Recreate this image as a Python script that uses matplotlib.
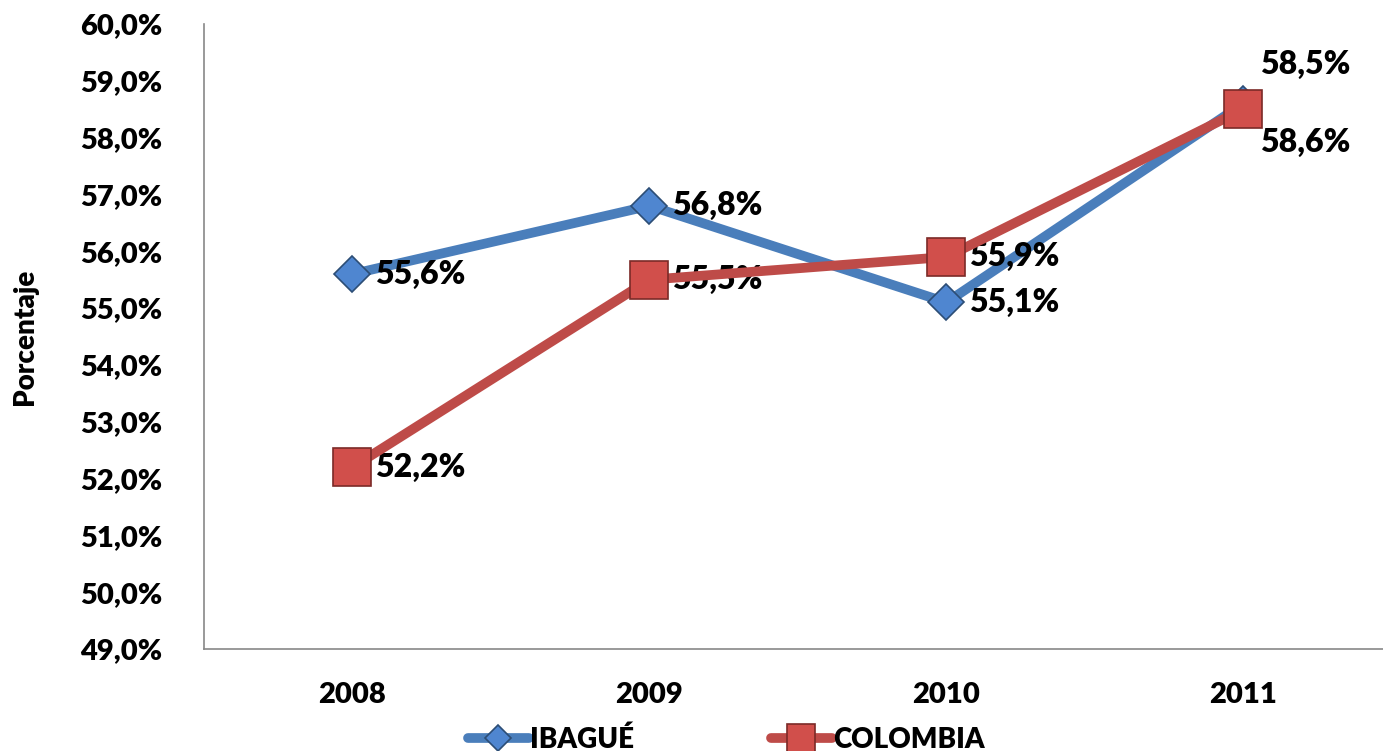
import matplotlib.pyplot as plt
from matplotlib.ticker import FuncFormatter

years = ["2008", "2009", "2010", "2011"]
ibague = [55.6, 56.8, 55.1, 58.6]
colombia = [52.2, 55.5, 55.9, 58.5]
ibague_labels = ["55,6%", "56,8%", "55,1%", "58,6%"]
colombia_labels = ["52,2%", "55,5%", "55,9%", "58,5%"]

W = "heavy"
plt.rcParams['font.family'] = ['Lato', 'DejaVu Sans']
plt.rcParams['font.weight'] = W

fig = plt.figure(figsize=(13.83, 7.51), dpi=100)
ax = fig.add_axes([204 / 1383, 1 - 649 / 751, (1383 - 204) / 1383, (649 - 24) / 751])

x = list(range(len(years)))
blue = "#4a7ebb"
red = "#be4b48"

ax.plot(x, ibague, color=blue, lw=7, marker="D", markersize=18,
        markerfacecolor="#4f86d0", markeredgecolor="#2c4d75", markeredgewidth=1.2,
        label="IBAGUÉ", solid_capstyle="round", zorder=3)
ax.plot(x, colombia, color=red, lw=7, marker="s", markersize=27,
        markerfacecolor="#d14f4b", markeredgecolor="#7b2a28", markeredgewidth=1.2,
        label="COLOMBIA", solid_capstyle="round", zorder=4)

fs = 23
for i, lab in enumerate(ibague_labels):
    off = (12, -28) if i == 3 else (16, 0)
    ax.annotate(lab, (x[i], ibague[i]), xytext=off, textcoords="offset points",
                ha="left", va="center", fontsize=fs, fontweight=W)
for i, lab in enumerate(colombia_labels):
    off = (12, 32) if i == 3 else (16, 0)
    ax.annotate(lab, (x[i], colombia[i]), xytext=off, textcoords="offset points",
                ha="left", va="center", fontsize=fs, fontweight=W)

ax.set_ylim(49, 60)
ax.set_yticks(range(49, 61))
ax.yaxis.set_major_formatter(FuncFormatter(lambda v, p: f"{v:.1f}%".replace(".", ",")))
ax.set_xlim(-0.5, 3.47)
ax.set_xticks(x)
ax.set_xticklabels(years)
ax.tick_params(axis="y", labelsize=21, length=0, pad=30)
ax.tick_params(axis="x", labelsize=21, length=0, pad=24)
for t in ax.get_xticklabels() + ax.get_yticklabels():
    t.set_fontweight(W)

for s in ["top", "right"]:
    ax.spines[s].set_visible(False)
for s in ["left", "bottom"]:
    ax.spines[s].set_color("#888888")
    ax.spines[s].set_linewidth(1.2)

fig.text(25 / 1383, 1 - 337 / 751, "Porcentaje", rotation=90, ha="center", va="center",
         fontsize=20, fontweight=W)

ax.legend(loc="center", bbox_to_anchor=(0.443, -0.145), ncol=2, frameon=False,
          handlelength=2.2, columnspacing=4.9, handletextpad=0.05, markerscale=0.75,
          prop={"weight": W, "size": 20})

fig.savefig("out.png", dpi=100)
